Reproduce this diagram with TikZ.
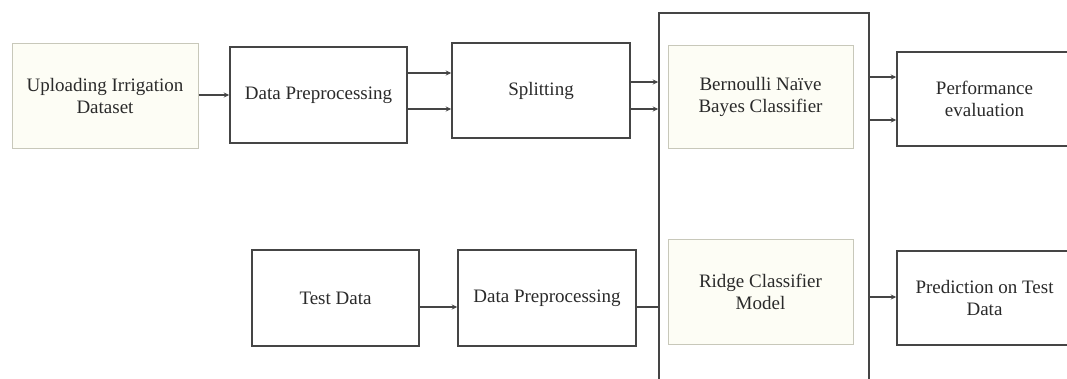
\documentclass[tikz,border=0pt]{standalone}
\usepackage{fontspec}
\setmainfont{Liberation Serif}
\usetikzlibrary{arrows.meta}
\definecolor{edgedark}{HTML}{454545}
\definecolor{edgelight}{HTML}{C8C8BA}
\definecolor{cream}{HTML}{FDFDF5}
\definecolor{txt}{HTML}{2A2A2A}
\begin{document}
\begin{tikzpicture}[x=1pt,y=-1pt,
  blk/.style={draw=edgedark, line width=1.5pt, fill=white, inner sep=0pt, align=center,
    text=txt, font=\fontsize{19}{22}\selectfont},
  lite/.style={draw=edgelight, line width=1pt, fill=cream, inner sep=0pt, align=center,
    text=txt, font=\fontsize{19}{22}\selectfont},
  conn/.style={draw=edgedark, line width=1.1pt},
  arr/.style={conn, -{Stealth[length=5.5pt,width=5pt]}}]
\useasboundingbox (0,0) rectangle (1067,378);
\fill[white] (0,0) rectangle (1067,378);
% nodes
\node[lite, minimum width=186pt, minimum height=105pt] (up) at (105,95.5) {Uploading Irrigation\\Dataset};
\node[blk, minimum width=177pt, minimum height=96pt] (dp1) at (318.5,95) {Data Preprocessing};
\node[blk, minimum width=178pt, minimum height=95pt] (spl) at (541,90.5) {Splitting};
\node[blk, minimum width=210pt, minimum height=382pt] (big) at (764,204) {};
\node[lite, minimum width=185pt, minimum height=103pt] (bnb) at (760.5,96.5) {Bernoulli Naïve\\Bayes Classifier};
\node[lite, minimum width=185pt, minimum height=105pt] (rdg) at (760.5,291.5) {Ridge Classifier\\Model};
\node[blk, minimum width=175pt, minimum height=94pt] (perf) at (984.5,99) {Performance\\evaluation};
\node[blk, minimum width=175pt, minimum height=94pt] (pred) at (984.5,298) {Prediction on Test\\Data};
\node[blk, minimum width=167pt, minimum height=96pt] (test) at (335.5,298) {Test Data};
\node[blk, minimum width=178pt, minimum height=96pt] (dp2) at (547,298) {Data Preprocessing};
% levels
\coordinate (y73) at (0,73);
\coordinate (y109) at (0,109);
\coordinate (y82) at (0,82);
\coordinate (y77) at (0,77);
\coordinate (y120) at (0,120);
\coordinate (y297) at (0,297);
\coordinate (y307) at (0,307);
\coordinate (y95) at (0,95);
% connectors
\draw[arr] (up.east |- y95) -- (dp1.west |- y95);
\draw[arr] (dp1.east |- y73) -- (spl.west |- y73);
\draw[arr] (dp1.east |- y109) -- (spl.west |- y109);
\draw[arr] (spl.east |- y82) -- (big.west |- y82);
\draw[arr] (spl.east |- y109) -- (big.west |- y109);
\draw[arr] (big.east |- y77) -- (perf.west |- y77);
\draw[arr] (big.east |- y120) -- (perf.west |- y120);
\draw[arr] (big.east |- y297) -- (pred.west |- y297);
\draw[arr] (test.east |- y307) -- (dp2.west |- y307);
\draw[conn] (dp2.east |- y307) -- (big.west |- y307);
\end{tikzpicture}
\end{document}
